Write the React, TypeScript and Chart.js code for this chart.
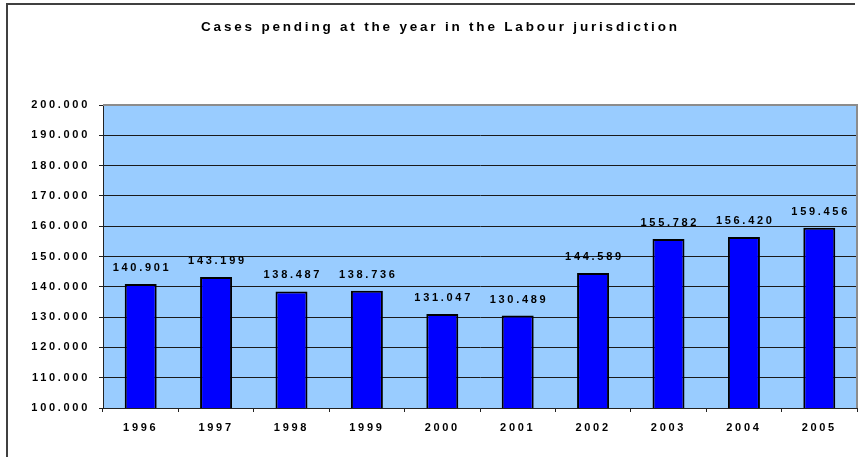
import React, { useEffect, useRef } from 'react';
import { Chart, registerables } from 'chart.js';

Chart.register(...registerables);

const chartTitle = 'Cases pending at the year in the Labour jurisdiction';
const years = ['1996', '1997', '1998', '1999', '2000', '2001', '2002', '2003', '2004', '2005'];
const pending = [140901, 143199, 138487, 138736, 131047, 130489, 144589, 155782, 156420, 159456];
const yMin = 100000;
const yMax = 200000;
const yStep = 10000;

const FONT_FAMILY = '"Liberation Sans", Arial, sans-serif';
const SPACING = 2.7;
const TITLE_SPACING = 2.8;

function fmt(v: number): string {
  const k = Math.floor(v / 1000);
  const r = Math.round(v % 1000);
  return k + '.' + String(r).padStart(3, '0');
}

const decoPlugin = {
  id: 'deco',
  beforeDraw(chart: any) {
    const { ctx, chartArea: a } = chart;
    ctx.save();
    ctx.fillStyle = '#ffffff';
    ctx.fillRect(0, 0, chart.width, chart.height);
    ctx.fillStyle = '#99CCFF';
    ctx.fillRect(a.left, a.top, a.right - a.left, a.bottom - a.top);
    // outer frame
    ctx.strokeStyle = '#404040';
    ctx.lineWidth = 2;
    ctx.beginPath();
    ctx.moveTo(7, 460);
    ctx.lineTo(7, 4);
    ctx.lineTo(855, 4);
    ctx.stroke();
    // title
    ctx.letterSpacing = TITLE_SPACING + 'px';
    ctx.font = `bold 13.5px ${FONT_FAMILY}`;
    ctx.fillStyle = '#000000';
    ctx.textAlign = 'center';
    ctx.textBaseline = 'middle';
    ctx.fillText(chartTitle, 439 + TITLE_SPACING / 2, 27);
    ctx.restore();
    ctx.letterSpacing = SPACING + 'px';
  },
  afterDatasetsDraw(chart: any) {
    const { ctx, chartArea: a } = chart;
    ctx.save();
    // right and top plot border (grey)
    ctx.strokeStyle = '#8c8c8c';
    ctx.lineWidth = 2;
    ctx.beginPath();
    ctx.moveTo(a.left, a.top);
    ctx.lineTo(a.right, a.top);
    ctx.lineTo(a.right, a.bottom);
    ctx.stroke();
    // data labels
    ctx.letterSpacing = SPACING + 'px';
    ctx.font = `bold 11px ${FONT_FAMILY}`;
    ctx.fillStyle = '#000000';
    ctx.textAlign = 'center';
    ctx.textBaseline = 'alphabetic';
    const meta = chart.getDatasetMeta(0);
    meta.data.forEach((bar: any, i: number) => {
      ctx.fillText(fmt(pending[i]), bar.x + SPACING / 2, bar.y - 13);
    });
    ctx.restore();
    ctx.letterSpacing = SPACING + 'px';
  },
};

export default function App() {
  const canvasRef = useRef<HTMLCanvasElement | null>(null);

  useEffect(() => {
    document.body.style.margin = '0';
    const canvas = canvasRef.current;
    if (!canvas) return;
    const tickFont = { family: FONT_FAMILY, size: 11, weight: 'bold' as const };
    const chart = new Chart(canvas, {
      type: 'bar',
      data: {
        labels: years,
        datasets: [
          {
            data: pending,
            backgroundColor: '#0000FF',
            borderColor: '#000000',
            borderWidth: 2,
            borderSkipped: false,
            barPercentage: 0.424,
            categoryPercentage: 1,
          },
        ],
      },
      options: {
        responsive: false,
        animation: false,
        devicePixelRatio: 1,
        layout: { padding: { top: 105, right: 7, left: 0, bottom: 0 } },
        plugins: {
          legend: { display: false },
          title: { display: false },
          tooltip: { enabled: false },
        },
        scales: {
          x: {
            offset: true,
            grid: {
              offset: true,
              drawOnChartArea: false,
              drawTicks: true,
              tickLength: 4,
              tickColor: '#222222',
              lineWidth: 1,
            },
            border: { color: '#222222', width: 1 },
            ticks: {
              autoSkip: false,
              maxRotation: 0,
              padding: 9.5,
              font: tickFont,
              color: '#000000',
            },
            afterFit(s: any) {
              s.height = 49;
            },
          },
          y: {
            min: yMin,
            max: yMax,
            ticks: {
              stepSize: yStep,
              callback: (v: any) => fmt(Number(v)),
              padding: 9,
              font: tickFont,
              color: '#000000',
            },
            grid: {
              color: (c: any) => (c.tick && c.tick.value === yMax ? '#8c8c8c' : '#1a1a1a'),
              tickColor: '#222222',
              tickLength: 4,
              lineWidth: 1,
            },
            border: { color: '#222222', width: 1 },
            afterFit(s: any) {
              s.width = 103;
            },
          },
        },
      },
      plugins: [decoPlugin],
    });
    return () => chart.destroy();
  }, []);

  return (
    <div style={{ width: 864, height: 457 }}>
      <canvas ref={canvasRef} width={864} height={457} style={{ display: 'block' }} />
    </div>
  );
}
